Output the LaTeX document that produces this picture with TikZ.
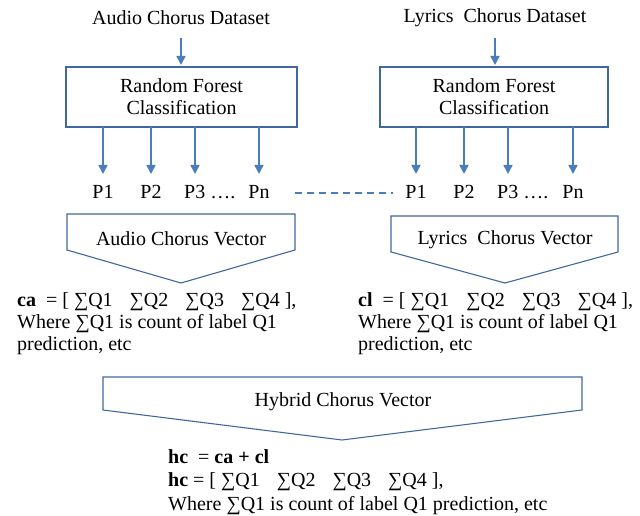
\documentclass[tikz,border=0pt]{standalone}
\usepackage{fontspec}
\setmainfont{Liberation Serif}
\usetikzlibrary{arrows.meta}
\definecolor{boxblue}{HTML}{41689E}
\definecolor{arrblue}{HTML}{4A7EBB}
\tikzset{
  txt/.style={inner sep=0pt, font=\fontsize{20}{22}\selectfont},
  rfbox/.style={draw=boxblue, line width=1.3pt, minimum width=231pt, minimum height=60pt, align=center, inner sep=0pt, font=\fontsize{20}{22}\selectfont},
  flow/.style={draw=arrblue, line width=1.6pt, -{Triangle[length=9pt,width=9pt]}},
  vec/.style={draw=boxblue, line width=1.1pt},
  link/.style={draw=arrblue, line width=1.4pt, dash pattern=on 7pt off 5pt},
  para/.style={txt, align=left, anchor=north west}
}
\newcommand{\gapQ}{\hspace{0.85em}}
\begin{document}
\begin{tikzpicture}[x=1pt,y=-1pt]
\useasboundingbox (0,0) rectangle (640,516);

% data sources
\node[txt] (ads) at (181,18) {Audio Chorus Dataset};
\node[txt] (lds) at (495,18) {Lyrics\ \ Chorus Dataset};

% classifiers
\node[rfbox] (rfa) at (181.5,97) {Random Forest\\Classification};
\node[rfbox, minimum width=228pt] (rfl) at (494,97) {Random Forest\\Classification};

\coordinate (ain) at (181,65);
\coordinate (lin) at (495,65);
\draw[flow] (ads.south |- 0,38) -- (ain);
\draw[flow] (lds.south |- 0,38) -- (lin);

% prediction outputs
\foreach \n/\x in {1/103,2/151,3/195,4/259}{
  \coordinate (ap\n) at (\x,174);
  \draw[flow] (\x,127) -- (ap\n);
}
\foreach \n/\x in {1/416,2/464,3/508,4/573}{
  \coordinate (lp\n) at (\x,174);
  \draw[flow] (\x,127) -- (lp\n);
}
\node[txt] (pa1) at (103,192) {P1};
\node[txt] (pa2) at (151,192) {P2};
\node[txt, anchor=west] (pa3) at (184,192) {P3 \dots.};
\node[txt] (pan) at (259,192) {Pn};
\node[txt] (pl1) at (416,192) {P1};
\node[txt] (pl2) at (464,192) {P2};
\node[txt, anchor=west] (pl3) at (497,192) {P3 \dots.};
\node[txt] (pln) at (573,192) {Pn};

\coordinate (dl) at (295,193);
\coordinate (dr) at (393,193);
\draw[link] (dl) -- (dr);

% chorus vectors
\draw[vec] (67,214) -- (295,214) -- (295,250) -- (181,283) -- (67,250) -- cycle;
\node[txt] (acv) at (181,239) {Audio Chorus Vector};
\draw[vec] (391,216) -- (618,216) -- (618,252) -- (505,283) -- (391,252) -- cycle;
\node[txt] (lcv) at (505,240) {Lyrics\ \ Chorus Vector};

\node[para] (catext) at (17,292) {\textbf{ca}\ \ = [ ∑Q1\gapQ∑Q2\gapQ∑Q3\gapQ∑Q4 ],\\Where ∑Q1 is count of label Q1\\prediction, etc};
\node[para] (cltext) at (358,292) {\textbf{cl}\ \ = [ ∑Q1\gapQ∑Q2\gapQ∑Q3\gapQ∑Q4 ],\\Where ∑Q1 is count of label Q1\\prediction, etc};

% hybrid vector
\draw[vec] (103,377) -- (582,377) -- (582,410) -- (342,440) -- (103,410) -- cycle;
\node[txt] (hcv) at (343,402) {Hybrid Chorus Vector};

\node[para, font=\fontsize{20}{23.5}\selectfont] (hctext) at (168,449) {\textbf{hc}\ \ = \textbf{ca + cl}\\\textbf{hc} = [ ∑Q1\gapQ∑Q2\gapQ∑Q3\gapQ∑Q4 ],\\Where ∑Q1 is count of label Q1 prediction, etc};
\end{tikzpicture}
\end{document}
